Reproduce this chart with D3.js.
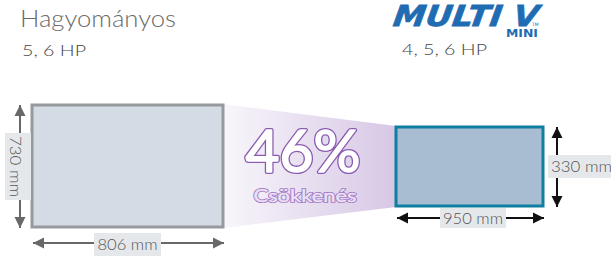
<!DOCTYPE html>
<html><head><meta charset="utf-8">
<script src="https://cdn.jsdelivr.net/npm/d3@7"></script>
<style>html,body{margin:0;padding:0;background:#fff;}svg{display:block;}</style>
</head><body>
<svg id="c" width="611" height="256"></svg>
<script>
const titles = ["Hagyományos", "MULTI V"];
const hpLabels = ["5, 6 HP", "4, 5, 6 HP"];
const widthsMm = [806, 950];
const depthsMm = [730, 330];
const reduction = [46];
const reductionLabel = ["Csökkenés"];

const svg = d3.select("#c");
const defs = svg.append("defs");

const boxes = [
  {x0: 32, x1: 223, y0: 105, y1: 227, fill: "#d3dbe4", stroke: "#979a9d", arrow: "#686868"},
  {x0: 396, x1: 543, y0: 127, y1: 206, fill: "#a8bdd1", stroke: "#0f7fa0", arrow: "#111111"}
];

const g = defs.append("linearGradient").attr("id","pg").attr("x1","0").attr("x2","1").attr("y1","0").attr("y2","0");
g.append("stop").attr("offset","0%").attr("stop-color","#f8f6fb");
g.append("stop").attr("offset","100%").attr("stop-color","#d7c7e5");
svg.append("path")
  .attr("d", d3.line()([[boxes[0].x1, boxes[0].y0-1],[boxes[1].x0, boxes[1].y0-1],[boxes[1].x0, boxes[1].y1+1],[boxes[0].x1, boxes[0].y1+1]]) + "Z")
  .attr("fill","url(#pg)");

boxes.forEach((b,i)=>{
  defs.append("marker").attr("id","ah"+i).attr("viewBox","0 0 10 10").attr("refX",10).attr("refY",5)
    .attr("markerWidth",5.5).attr("markerHeight",6).attr("markerUnits","strokeWidth").attr("orient","auto-start-reverse")
    .append("path").attr("d","M0,0L10,5L0,10Z").attr("fill",b.arrow);
});

svg.selectAll("rect.box").data(boxes).join("rect").attr("class","box")
  .attr("x",d=>d.x0).attr("y",d=>d.y0).attr("width",d=>d.x1-d.x0).attr("height",d=>d.y1-d.y0)
  .attr("fill",d=>d.fill).attr("stroke",d=>d.stroke).attr("stroke-width",3);

const font = "'Lato','Open Sans',sans-serif";

const hArrowY = [243, 218];
boxes.forEach((b,i)=>{
  const y = hArrowY[i];
  svg.append("line").attr("x1",b.x0+1).attr("x2",b.x1+1).attr("y1",y).attr("y2",y)
    .attr("stroke",b.arrow).attr("stroke-width",2)
    .attr("marker-start","url(#ah"+i+")").attr("marker-end","url(#ah"+i+")");
});
const vArrowX = [20, 557];
boxes.forEach((b,i)=>{
  const x = vArrowX[i];
  svg.append("line").attr("x1",x).attr("x2",x).attr("y1",b.y0).attr("y2",b.y1+1)
    .attr("stroke",b.arrow).attr("stroke-width",2)
    .attr("marker-start","url(#ah"+i+")").attr("marker-end","url(#ah"+i+")");
});

const wLabelBoxes = [{x:94,y:233,w:67,h:23},{x:440,y:208,w:66,h:20}];
const dLabelBoxes = [{x:5,y:133,w:26,h:67},{x:548,y:155,w:63,h:23}];
widthsMm.forEach((v,i)=>{
  const r = wLabelBoxes[i];
  svg.append("rect").attr("x",r.x).attr("y",r.y).attr("width",r.w).attr("height",r.h).attr("fill","#e5e8eb");
  svg.append("text").attr("x",r.x+r.w/2).attr("y",r.y+r.h/2+5.5).attr("text-anchor","middle")
    .attr("font-family",font).attr("font-weight",300).attr("font-size",16).attr("fill","#555")
    .attr("textLength",60).attr("lengthAdjust","spacingAndGlyphs").text(v+" mm");
});
depthsMm.forEach((v,i)=>{
  const r = dLabelBoxes[i];
  svg.append("rect").attr("x",r.x).attr("y",r.y).attr("width",r.w).attr("height",r.h).attr("fill","#e5e8eb");
  const t = svg.append("text").attr("font-family",font).attr("font-weight",300).attr("font-size",16).attr("fill","#555")
    .attr("textLength",61).attr("lengthAdjust","spacingAndGlyphs").text(v+" mm");
  if (i===0) {
    const cy = r.y+r.h/2;
    t.attr("text-anchor","middle").attr("transform",`translate(10,${cy}) rotate(90)`);
  } else {
    t.attr("x",r.x+3).attr("y",r.y+r.h/2+5.5);
  }
});

svg.append("text").attr("x",20).attr("y",27).attr("font-family",font).attr("font-weight",300)
  .attr("font-size",23).attr("fill","#6a6a6a").attr("textLength",156).attr("lengthAdjust","spacingAndGlyphs").text(titles[0]);
svg.append("text").attr("x",22).attr("y",56).attr("font-family",font).attr("font-weight",300).attr("font-size",15.5)
  .attr("fill","#444").attr("textLength",64).attr("lengthAdjust","spacingAndGlyphs").text(hpLabels[0]);
svg.append("text").attr("x",402).attr("y",55).attr("font-family",font).attr("font-weight",300).attr("font-size",15.5)
  .attr("fill","#444").attr("textLength",85).attr("lengthAdjust","spacingAndGlyphs").text(hpLabels[1]);

svg.append("text").attr("x",393).attr("y",26).attr("font-family","'DejaVu Sans',sans-serif").attr("font-weight","bold")
  .attr("font-style","italic").attr("font-size",29).attr("fill","#1f6cb2").attr("textLength",145)
  .attr("stroke","#1f6cb2").attr("stroke-width",0.8)
  .attr("lengthAdjust","spacingAndGlyphs").attr("transform","skewX(-8) translate(3,0)").text(titles[1]);
svg.append("text").attr("x",506).attr("y",37).attr("font-family","'DejaVu Sans',sans-serif").attr("font-weight","bold")
  .attr("font-size",10).attr("fill","#1f6cb2").attr("textLength",32).attr("lengthAdjust","spacingAndGlyphs").text("MINI");
svg.append("text").attr("x",532).attr("y",26).attr("font-family","'DejaVu Sans',sans-serif")
  .attr("font-size",4.5).attr("fill","#1f6cb2").text("TM");

// outlined reduction text: purple wide stroke underneath, white thickened glyph on top
const big = svg.append("g");
[["#8a5bb0",4.2,"#8a5bb0"],["#fff",1.6,"#fff"]].forEach(([st,sw,fi])=>{
  big.append("text").attr("x",303).attr("y",171.5).attr("text-anchor","middle").attr("font-family",font)
    .attr("font-size",59).attr("fill",fi).attr("stroke",st).attr("stroke-width",sw).attr("stroke-linejoin","round")
    .attr("textLength",115).attr("lengthAdjust","spacingAndGlyphs").text(reduction[0]+"%");
});
[["#9a6dc0",2.0,"#9a6dc0"],["#ece2f4",0.5,"#ece2f4"]].forEach(([st,sw,fi])=>{
  big.append("text").attr("x",305).attr("y",202).attr("text-anchor","middle").attr("font-family",font)
    .attr("font-size",17.5).attr("fill",fi).attr("stroke",st).attr("stroke-width",sw).attr("stroke-linejoin","round")
    .attr("textLength",103).attr("lengthAdjust","spacingAndGlyphs").text(reductionLabel[0]);
});
</script>
</body></html>
